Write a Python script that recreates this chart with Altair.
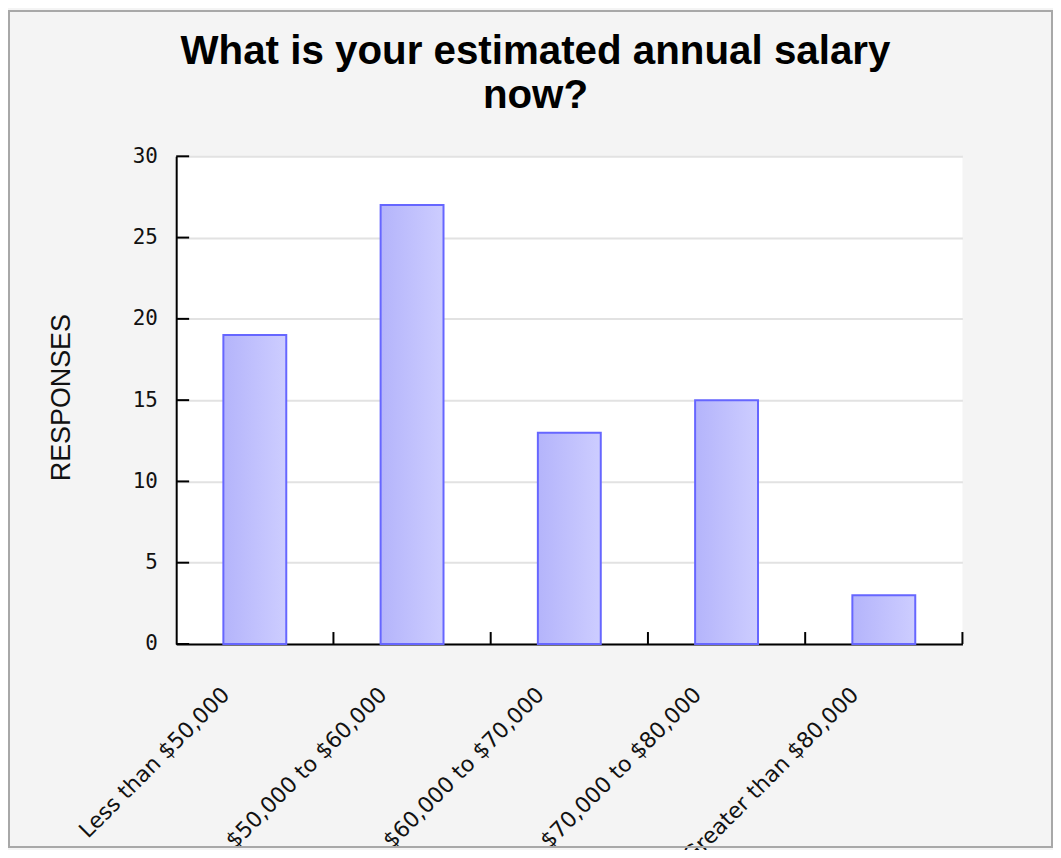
import altair as alt
import pandas as pd

categories = ["Less than $50,000", "$50,000 to $60,000", "$60,000 to $70,000",
              "$70,000 to $80,000", "Greater than $80,000"]
responses = [19, 27, 13, 15, 3]
y_ticks = [0, 5, 10, 15, 20, 25, 30]
title_text = "What is your estimated annual salary\nnow?"

W, H = 790, 490
CW, CH = 1050, 842
PL, PT = 169, 147

bars_df = pd.DataFrame({"category": categories, "responses": responses})
yt_df = pd.DataFrame({"v": y_ticks})
xt_df = pd.DataFrame({"category": categories})
one_df = pd.DataFrame({"k": [0]})

xscale = alt.Scale(domain=categories, paddingInner=0.6, paddingOuter=0.3)
yscale = alt.Scale(domain=[0, 30], nice=False)

grad = alt.LinearGradient(
    gradient="linear",
    stops=[alt.GradientStop(color="#b4b4fb", offset=0),
           alt.GradientStop(color="#cdcdff", offset=1)],
    x1=0, x2=1, y1=0, y2=0,
)

bars = alt.Chart(bars_df).mark_bar(color=grad, stroke="#6666ff", strokeWidth=2).encode(
    x=alt.X("category:N", sort=categories, scale=xscale,
            axis=alt.Axis(title=None, labelAngle=315, labelAlign="right",
                          labelBaseline="middle", labelFont="DejaVu Sans",
                          labelFontSize=22, labelColor="#111111", labelLimit=0,
                          labelPadding=47, labelOffset=-29, ticks=False, tickSize=0,
                          labelOverlap=False, labelBound=False, labelFlush=False,
                          domainColor="black", domainWidth=2, grid=False)),
    y=alt.Y("responses:Q", scale=yscale,
            axis=alt.Axis(title="RESPONSES", titleFont="Liberation Sans",
                          titleFontSize=27, titleFontWeight="normal", titleColor="#111111",
                          titleX=-115, titleY=242, titleBaseline="middle", titleAlign="center",
                          values=y_ticks, labelFont="DejaVu Sans Mono", labelFontSize=21,
                          labelColor="#111111", labelPadding=19, ticks=False, tickSize=0,
                          domainColor="black", domainWidth=2,
                          grid=True, gridColor="#e2e2e2", gridWidth=2)),
)

yticks = alt.Chart(yt_df).mark_rule(color="black", strokeWidth=2).encode(
    y=alt.Y("v:Q", scale=yscale),
    x=alt.value(0), x2=alt.value(13),
)

xticks = alt.Chart(xt_df).mark_rule(color="black", strokeWidth=2, xOffset=W / 10).encode(
    x=alt.X("category:N", sort=categories, scale=xscale),
    y=alt.value(H), y2=alt.value(H - 12),
)

frame = alt.Chart(one_df).mark_rect(fillOpacity=0, stroke="#a8a8a8", strokeWidth=2).encode(
    x=alt.value(-PL + 1), x2=alt.value(CW - PL - 1),
    y=alt.value(-PT + 1), y2=alt.value(CH - PT - 1),
)

title = alt.Chart(one_df).mark_text(
    font="Liberation Sans", fontSize=40.5, fontWeight="bold", color="black",
    align="center", baseline="top", lineBreak="\n", lineHeight=44,
).encode(
    x=alt.value(361), y=alt.value(-125), text=alt.value(title_text),
)

chart = alt.layer(bars, yticks, xticks, frame, title).properties(
    width=W, height=H,
    padding={"left": PL, "top": PT, "right": CW - PL - W, "bottom": CH - PT - H},
    autosize=alt.AutoSizeParams(type="none"),
    background="#f4f4f4",
).configure_view(fill="white", strokeWidth=0)

chart.save("out.html", embed_options={"renderer": "svg", "actions": False})
